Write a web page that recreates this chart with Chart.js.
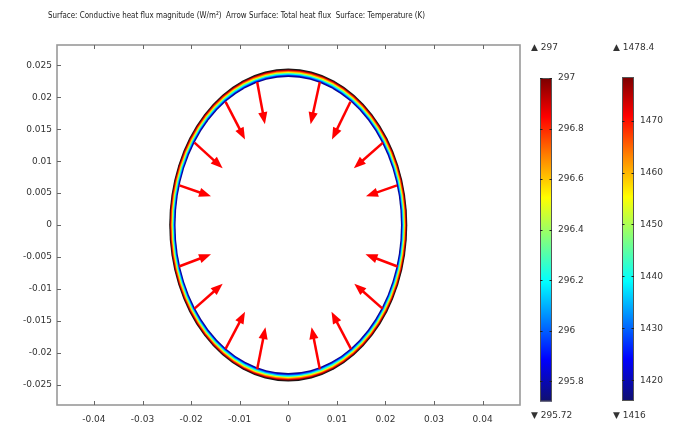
<!DOCTYPE html>
<html><head><meta charset="utf-8">
<script src="https://cdn.jsdelivr.net/npm/chart.js@4"></script>
<style>html,body{margin:0;padding:0;background:#fff;}#wrap{width:681px;height:425px;}</style>
</head><body><div id="wrap"><canvas id="c" width="681" height="425"></canvas></div>
<script>
// ---- data ----
const titleText = 'Surface: Conductive heat flux magnitude (W/m\u00B2)  Arrow Surface: Total heat flux  Surface: Temperature (K)';
const xTicks = [-0.04, -0.03, -0.02, -0.01, 0, 0.01, 0.02, 0.03, 0.04];
const xTickLabels = ['-0.04', '-0.03', '-0.02', '-0.01', '0', '0.01', '0.02', '0.03', '0.04'];
const yTicks = [-0.025, -0.02, -0.015, -0.01, -0.005, 0, 0.005, 0.01, 0.015, 0.02, 0.025];
const yTickLabels = ['-0.025', '-0.02', '-0.015', '-0.01', '-0.005', '0', '0.005', '0.01', '0.015', '0.02', '0.025'];
const xRange = [-0.0476, 0.0477];
const yRange = [-0.0282, 0.0282];
const ringCenter = [0, 0];
const ringOuterRadius = 0.0245;
const ringInnerRadius = 0.0232;
// arrow tails (x, y) and vectors (u, v), data units
const arrowX = [-0.0064, -0.0129, -0.0193, -0.0224, -0.0225, -0.0193, -0.0129, -0.0064,
                 0.0065,  0.0128,  0.0195,  0.0224,  0.0225,  0.0194,  0.0129,  0.0065];
const arrowY = [ 0.0224,  0.0193,  0.0129,  0.0062, -0.0065, -0.0131, -0.0194, -0.0226,
                 0.0224,  0.0193,  0.0129,  0.0062, -0.0065, -0.0131, -0.0194, -0.0226];
const arrowU = [ 0.0016,  0.0040,  0.0058,  0.0065,  0.0066,  0.0058,  0.0040,  0.0017,
                -0.0019, -0.0038, -0.0060, -0.0064, -0.0066, -0.0058, -0.0040, -0.0017];
const arrowV = [-0.0066, -0.0059, -0.0040, -0.0017,  0.0019,  0.0039,  0.0058,  0.0066,
                -0.0066, -0.0059, -0.0040, -0.0017,  0.0019,  0.0039,  0.0058,  0.0066];
const cb1Ticks = [295.8, 296, 296.2, 296.4, 296.6, 296.8, 297];
const cb1Labels = ['295.8', '296', '296.2', '296.4', '296.6', '296.8', '297'];
const cb1Range = [295.72, 297];
const cb1Max = '297', cb1Min = '295.72';
const cb2Ticks = [1420, 1430, 1440, 1450, 1460, 1470];
const cb2Labels = ['1420', '1430', '1440', '1450', '1460', '1470'];
const cb2Range = [1416, 1478.4];
const cb2Max = '1478.4', cb2Min = '1416';

// ---- style ----
const cmapStops = [0, 0.13, 0.37, 0.5, 0.63, 0.76, 0.88, 1];
const cmapColors = ['#10106e', '#0000ff', '#00ffff', '#80ff80', '#ffff00', '#ff8000', '#ff0000', '#7a0000'];
const ringColors = ['#151515', '#7a0000', '#ff0000', '#ff8000', '#ffff00', '#70ff80', '#00ffff', '#0070ff', '#0000d0', '#0a0a80'];
const FONT = 'DejaVu Sans';
const tickFont = {family: FONT, size: 9};
const textColor = '#333';

// layout (pixels)
const PLOT_TOP = 45, PLOT_BOTTOM = 405;
const BAR1 = {left: 540, right: 552, top: 78, bottom: 401.5};
const BAR2 = {left: 622, right: 634, top: 77, bottom: 401};

function cbScaleRange(range, bar) {
  const u = (range[1] - range[0]) / (bar.bottom - bar.top);
  return [range[0] - (PLOT_BOTTOM - bar.bottom) * u, range[1] + (bar.top - PLOT_TOP) * u];
}
const y2R = cbScaleRange(cb1Range, BAR1);
const y3R = cbScaleRange(cb2Range, BAR2);

function setTicks(vals) { return s => { s.ticks = vals.map(v => ({value: v})); }; }
function fitV(w) { return s => { s.width = w; s.paddingTop = 0; s.paddingBottom = 0; }; }
function fitH(h) { return s => { s.height = h; s.paddingLeft = 0; s.paddingRight = 0; }; }

const plugin = {
  id: 'comsol',
  beforeDraw(chart) {
    const c = chart.ctx; c.save(); c.fillStyle = '#fff'; c.fillRect(0, 0, chart.width, chart.height); c.restore();
  },
  afterDraw(chart) {
    const c = chart.ctx;
    const xs = chart.scales.x, ys = chart.scales.y;
    const a = chart.chartArea;
    c.save();
    // ring
    const cx = xs.getPixelForValue(ringCenter[0]), cy = ys.getPixelForValue(ringCenter[1]);
    const n = ringColors.length;
    for (let i = 0; i < n; i++) {
      const r = ringOuterRadius - (ringOuterRadius - ringInnerRadius) * i / n;
      const rx = xs.getPixelForValue(r) - cx, ry = cy - ys.getPixelForValue(r);
      c.beginPath(); c.ellipse(cx, cy, rx, ry, 0, 0, Math.PI * 2);
      c.fillStyle = ringColors[i]; c.fill();
    }
    {
      const rx = xs.getPixelForValue(ringInnerRadius) - cx, ry = cy - ys.getPixelForValue(ringInnerRadius);
      c.beginPath(); c.ellipse(cx, cy, rx, ry, 0, 0, Math.PI * 2);
      c.fillStyle = '#fff'; c.fill();
    }
    // arrows
    c.strokeStyle = '#ff0000'; c.fillStyle = '#ff0000'; c.lineWidth = 2.5; c.lineCap = 'butt';
    for (let i = 0; i < arrowX.length; i++) {
      const x0 = xs.getPixelForValue(arrowX[i]), y0 = ys.getPixelForValue(arrowY[i]);
      const x1 = xs.getPixelForValue(arrowX[i] + arrowU[i]), y1 = ys.getPixelForValue(arrowY[i] + arrowV[i]);
      const dx = x1 - x0, dy = y1 - y0, L = Math.hypot(dx, dy);
      const ux = dx / L, uy = dy / L;
      const hl = 12, hw = 4.6;
      const bx = x1 - ux * hl, by = y1 - uy * hl;
      c.beginPath(); c.moveTo(x0, y0); c.lineTo(bx + ux, by + uy); c.stroke();
      c.beginPath(); c.moveTo(x1, y1);
      c.lineTo(bx - uy * hw, by + ux * hw);
      c.lineTo(bx + uy * hw, by - ux * hw);
      c.closePath(); c.fill();
    }
    // frame
    c.strokeStyle = '#999'; c.lineWidth = 1.6;
    c.strokeRect(a.left, a.top, a.right - a.left, a.bottom - a.top);
    // ticks inside
    c.strokeStyle = '#666'; c.lineWidth = 1;
    c.beginPath();
    xTicks.forEach(v => {
      const px = Math.round(xs.getPixelForValue(v)) + 0.5;
      c.moveTo(px, a.top); c.lineTo(px, a.top + 4);
      c.moveTo(px, a.bottom); c.lineTo(px, a.bottom - 4);
    });
    yTicks.forEach(v => {
      const py = Math.round(ys.getPixelForValue(v)) + 0.5;
      c.moveTo(a.left, py); c.lineTo(a.left + 4, py);
    });
    c.stroke();
    // colorbars
    const grad = (top, bottom) => {
      const g = c.createLinearGradient(0, bottom, 0, top);
      cmapStops.forEach((s, i) => g.addColorStop(s, cmapColors[i]));
      return g;
    };
    const drawBar = (scale, bar, range, ticks) => {
      const t = scale.getPixelForValue(range[1]), b = scale.getPixelForValue(range[0]);
      c.fillStyle = grad(t, b);
      c.fillRect(bar.left, t, bar.right - bar.left, b - t);
      c.strokeStyle = '#555'; c.lineWidth = 1;
      c.strokeRect(bar.left + 0.5, t + 0.5, bar.right - bar.left - 1, b - t - 1);
      c.strokeStyle = '#222'; c.beginPath();
      ticks.forEach(v => {
        const py = Math.round(scale.getPixelForValue(v)) + 0.5;
        c.moveTo(bar.left, py); c.lineTo(bar.left + 2.5, py);
        c.moveTo(bar.right, py); c.lineTo(bar.right - 2.5, py);
      });
      c.stroke();
    };
    drawBar(chart.scales.y2, BAR1, cb1Range, cb1Ticks);
    drawBar(chart.scales.y3, BAR2, cb2Range, cb2Ticks);
    // headers
    c.fillStyle = textColor; c.font = '9px "' + FONT + '"'; c.textBaseline = 'middle'; c.textAlign = 'left';
    c.fillText('\u25B2 ' + cb1Max, 531, 48);
    c.fillText('\u25B2 ' + cb2Max, 613, 48);
    c.fillText('\u25BC ' + cb1Min, 531, 416);
    c.fillText('\u25BC ' + cb2Min, 613, 416);
    // title
    c.font = '9.5px "' + FONT + '"';
    const w = c.measureText(titleText).width;
    const target = 377;
    c.translate(48, 16); c.scale(target / w, 1);
    c.fillStyle = '#222';
    c.fillText(titleText, 0, 0);
    c.restore();
  }
};

const tickOpts = (labels, pad) => ({
  font: tickFont, color: textColor, padding: pad, autoSkip: false, maxRotation: 0,
  callback: (v, i) => labels[i]
});

new Chart(document.getElementById('c'), {
  type: 'scatter',
  data: {datasets: [{data: [], showLine: false}]},
  options: {
    responsive: false, animation: false, events: [],
    layout: {padding: {top: PLOT_TOP, left: 0, right: 0, bottom: 0}},
    plugins: {legend: {display: false}, tooltip: {enabled: false}, title: {display: false}},
    scales: {
      x: {type: 'linear', position: 'bottom', min: xRange[0], max: xRange[1],
          grid: {display: false, drawTicks: false}, border: {display: false},
          ticks: tickOpts(xTickLabels, 9), afterBuildTicks: setTicks(xTicks),
          afterFit: fitH(20)},
      y: {type: 'linear', position: 'left', min: yRange[0], max: yRange[1],
          grid: {display: false, drawTicks: false}, border: {display: false},
          ticks: tickOpts(yTickLabels, 5), afterBuildTicks: setTicks(yTicks),
          afterFit: fitV(57)},
      y2: {type: 'linear', position: 'right', weight: 0, min: y2R[0], max: y2R[1],
          grid: {display: false, drawTicks: false}, border: {display: false},
          ticks: tickOpts(cb1Labels, 38), afterBuildTicks: setTicks(cb1Ticks),
          afterFit: fitV(70)},
      y3: {type: 'linear', position: 'right', weight: 1, min: y3R[0], max: y3R[1],
          grid: {display: false, drawTicks: false}, border: {display: false},
          ticks: tickOpts(cb2Labels, 50), afterBuildTicks: setTicks(cb2Ticks),
          afterFit: fitV(91)}
    }
  },
  plugins: [plugin]
});
</script>
</body></html>
